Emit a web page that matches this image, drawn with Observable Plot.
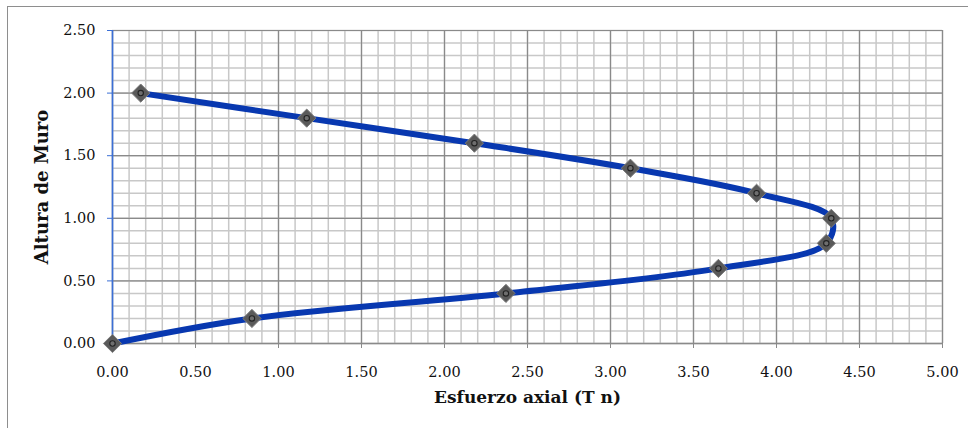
<!DOCTYPE html>
<html><head><meta charset="utf-8">
<script src="https://cdn.jsdelivr.net/npm/d3@7"></script>
<script src="https://cdn.jsdelivr.net/npm/@observablehq/plot@0.6"></script>
<style>
html,body{margin:0;padding:0;background:#fff;}
#wrap{position:relative;width:968px;height:428px;overflow:hidden;background:#fff;}
#border{position:absolute;left:7px;top:6px;width:1000px;height:1000px;border:1.5px solid #8e8e8e;box-sizing:border-box;}
#chart{position:absolute;left:0;top:0;}
</style></head><body>
<div id="wrap"><div id="border"></div><div id="chart"></div></div>
<script>
// Data
const alturas = [0, 0.2, 0.4, 0.6, 0.8, 1.0, 1.2, 1.4, 1.6, 1.8, 2.0];
const esfuerzos = [0, 0.84, 2.37, 3.65, 4.30, 4.33, 3.88, 3.12, 2.18, 1.17, 0.17];
const xTicks = [0, 0.5, 1.0, 1.5, 2.0, 2.5, 3.0, 3.5, 4.0, 4.5, 5.0];
const yTicks = [0, 0.5, 1.0, 1.5, 2.0, 2.5];
const xTitle = "Esfuerzo axial (T n)";
const yTitle = "Altura de Muro";
const minorStep = 0.1;

const data = alturas.map((y, i) => ({x: esfuerzos[i], y}));
const xMinor = d3.range(0, 50.5).map(i => +(i * minorStep).toFixed(2));
const yMinor = d3.range(0, 25.5).map(i => +(i * minorStep).toFixed(2));
const fmt = d3.format(".2f");
const font = "'DejaVu Serif', 'Liberation Serif', serif";

const plot = Plot.plot({
  width: 968, height: 428,
  marginLeft: 112, marginRight: 26, marginTop: 30, marginBottom: 85,
  style: {fontFamily: font, fontSize: "14px", color: "#111", background: "transparent", overflow: "visible"},
  x: {domain: [0, 5], label: null},
  y: {domain: [0, 2.5], label: null},
  marks: [
    Plot.ruleX(xMinor, {stroke: "#c8c8c8", strokeWidth: 1.5}),
    Plot.ruleY(yMinor, {stroke: "#c8c8c8", strokeWidth: 1.5}),
    Plot.ruleX(xTicks, {stroke: "#8a8a8a", strokeWidth: 1.2}),
    Plot.ruleY(yTicks, {stroke: "#8a8a8a", strokeWidth: 1.2}),
    Plot.ruleY([0], {stroke: "#8a8a8a", strokeWidth: 1.3}),
    Plot.ruleX([0], {stroke: "#3b6fd6", strokeWidth: 1.6}),
    Plot.axisX({ticks: xTicks, tickFormat: fmt, tickSize: 5, tickPadding: 18, stroke: "#8a8a8a", fill: "#111", label: null, fontSize: 14.5}),
    Plot.axisY({ticks: yTicks, tickFormat: fmt, tickSize: 5, tickPadding: 12, stroke: "#3b6fd6", fill: "#111", label: null, fontSize: 14.5}),
    Plot.line(data, {x: "x", y: "y", curve: "catmull-rom", stroke: "#0838b0", strokeWidth: 6}),
    Plot.dot(data, {x: "x", y: "y", symbol: "diamond2", r: 8.2, fill: "#5a5a5a", stroke: "#7c7c7c", strokeWidth: 1, ariaLabel: "markers"}),
    Plot.dot(data, {x: "x", y: "y", r: 2.7, fill: "#6e6e6e", stroke: "#222", strokeWidth: 1.1}),
    Plot.text([xTitle], {frameAnchor: "bottom", dy: 59, fontWeight: "bold", fontSize: 17, fill: "#111"}),
    Plot.text([yTitle], {frameAnchor: "left", textAnchor: "middle", dx: -70, rotate: -90, fontWeight: "bold", fontSize: 18, fill: "#111"})
  ]
});

// soft shadow under the markers
const svgNS = "http://www.w3.org/2000/svg";
const defs = document.createElementNS(svgNS, "defs");
defs.innerHTML = '<filter id="mshadow" x="-60%" y="-60%" width="220%" height="220%"><feDropShadow dx="0.5" dy="2" stdDeviation="1.8" flood-color="#000" flood-opacity="0.5"/></filter>';
plot.insertBefore(defs, plot.firstChild);
const mg = plot.querySelector('g[aria-label="markers"]');
if (mg) mg.setAttribute("filter", "url(#mshadow)");

document.getElementById("chart").appendChild(plot);
</script>
</body></html>
